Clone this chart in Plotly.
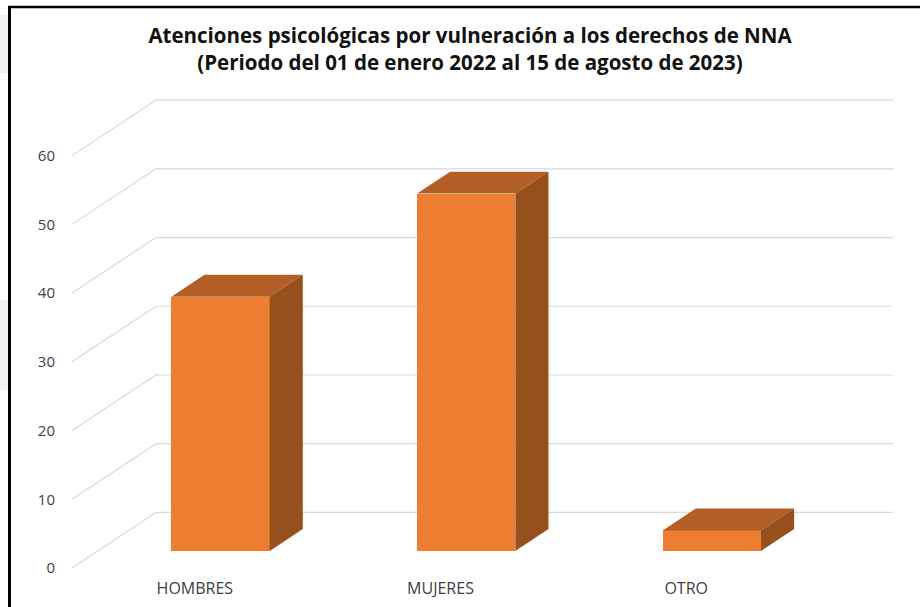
import plotly.graph_objects as go

categories = ["HOMBRES", "MUJERES", "OTRO"]
values = [37, 52, 3]
ticks = [0, 10, 20, 30, 40, 50, 60]
title_lines = ["Atenciones psicológicas por vulneración a los derechos de NNA",
               "(Periodo del 01 de enero 2022 al 15 de agosto de 2023)"]

W, H = 920, 607
ML, MB = 72, 39.4
PX_CAT = 245.67      # pixels per category
PX_VAL = 6.867       # pixels per value unit
WALL_DX = 84 / PX_CAT     # floor depth in category units
WALL_DY = 55.5 / PX_VAL   # floor depth in value units
BAR_W = 0.4
D_FRONT, D_BACK = 0.306, 0.70

FRONT, TOP, SIDE = "#ED7D31", "#B35E25", "#97501C"
GRID = "#D9D9D9"
TEXT = "#404040"


def shift(d):
    """Offset of a plane at depth d (0 = front of floor, 1 = back wall)."""
    return -WALL_DX * (1 - d), -WALL_DY * (1 - d)


fig = go.Figure()

fx, fy = shift(D_FRONT)
bx, by = shift(D_BACK)
cx = [i + 0.5 + fx for i in range(len(categories))]

fig.add_trace(go.Bar(x=cx, y=values, base=fy, width=BAR_W,
                     marker=dict(color=FRONT, line=dict(width=0)),
                     hoverinfo="skip", showlegend=False))

for c, v in zip(cx, values):
    l, r = c - BAR_W / 2, c + BAR_W / 2
    ddx, ddy = bx - fx, by - fy
    t = v + fy
    fig.add_trace(go.Scatter(x=[l, r, r + ddx, l + ddx, l], y=[t, t, t + ddy, t + ddy, t],
                             mode="lines", fill="toself", fillcolor=TOP, line=dict(width=0),
                             hoverinfo="skip", showlegend=False))
    fig.add_trace(go.Scatter(x=[r, r + ddx, r + ddx, r, r],
                             y=[t, t + ddy, fy + ddy, fy, t],
                             mode="lines", fill="toself", fillcolor=SIDE, line=dict(width=0),
                             hoverinfo="skip", showlegend=False))

shapes = []
n = len(categories)
for v in ticks:
    shapes.append(dict(type="line", xref="x", yref="y", layer="below",
                       x0=-WALL_DX, y0=v - WALL_DY, x1=0, y1=v,
                       line=dict(color=GRID, width=1.2)))
    shapes.append(dict(type="line", xref="x", yref="y", layer="below",
                       x0=0, y0=v, x1=n, y1=v,
                       line=dict(color=GRID, width=1.2)))

plot_w, plot_h = W - ML, H - MB
def pxx(p): return (p - ML) / plot_w
def pxy(p): return (H - MB - p) / plot_h

# faint background tints outside the frame
for y0, y1 in [(15, 73), (300, 390)]:
    shapes.append(dict(type="rect", xref="paper", yref="paper", layer="below",
                       x0=pxx(0), x1=pxx(8), y0=pxy(y1), y1=pxy(y0),
                       fillcolor="#F1F2F4", line=dict(width=0)))

# outer frame (left and top edges only)
shapes.append(dict(type="line", xref="paper", yref="paper", x0=pxx(9.5), x1=pxx(9.5), y0=pxy(6), y1=pxy(607),
                   line=dict(color="black", width=3)))
shapes.append(dict(type="line", xref="paper", yref="paper", x0=pxx(8), x1=pxx(920), y0=pxy(7), y1=pxy(7),
                   line=dict(color="black", width=2.5)))

fig.update_layout(
    width=W, height=H, autosize=False,
    margin=dict(l=ML, r=0, t=0, b=MB),
    paper_bgcolor="white", plot_bgcolor="white",
    showlegend=False, bargap=0, shapes=shapes,
    font=dict(family="Open Sans", color=TEXT),
    title=dict(text="<b>" + "<br>".join(title_lines) + "</b>",
               x=470 / W, xanchor="center", xref="container",
               y=1 - 43 / H, yanchor="middle", yref="container",
               font=dict(family="Open Sans", size=20.5, color="#111111")),
    xaxis=dict(range=[-WALL_DX, (W - 156) / PX_CAT], showgrid=False, zeroline=False, showline=False,
               tickmode="array", tickvals=[i + 0.5 - WALL_DX for i in range(n)], ticktext=categories,
               ticks="outside", ticklen=6, tickcolor="rgba(0,0,0,0)",
               tickfont=dict(family="Open Sans", size=16, color=TEXT)),
    yaxis=dict(range=[-WALL_DY, 512 / PX_VAL], showgrid=False, zeroline=False, showline=False,
               tickmode="array", tickvals=[v - WALL_DY for v in ticks], ticktext=[str(v) for v in ticks],
               ticks="outside", ticklen=13, tickcolor="rgba(0,0,0,0)",
               tickfont=dict(family="Open Sans", size=15, color=TEXT)),
)

fig.write_html("out.html", config={"displayModeBar": False},
               post_script="document.body.style.margin='0';document.documentElement.style.overflow='hidden';")
